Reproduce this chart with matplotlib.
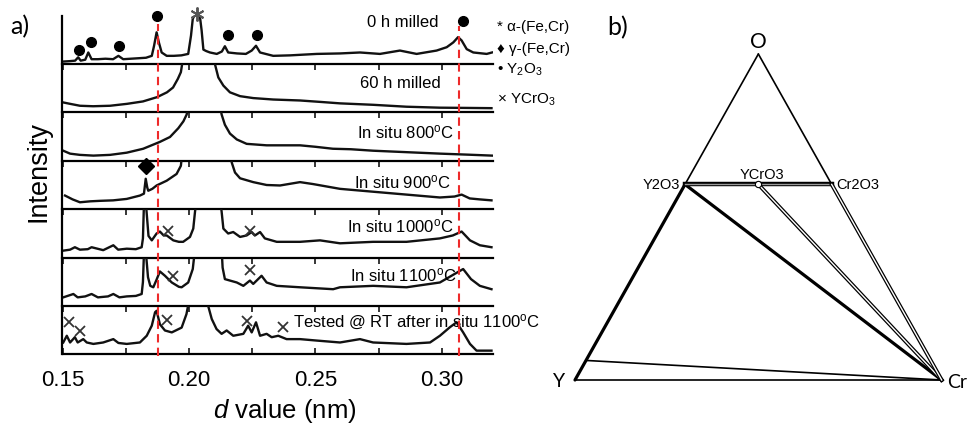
import matplotlib
matplotlib.use('Agg')
import matplotlib.pyplot as plt
import numpy as np

plt.rcParams['font.family'] = ['Liberation Sans', 'DejaVu Sans']
plt.rcParams['mathtext.fontset'] = 'custom'
plt.rcParams['mathtext.rm'] = 'Liberation Sans'
plt.rcParams['mathtext.it'] = 'Liberation Sans:italic'
plt.rcParams['mathtext.bf'] = 'Liberation Sans:bold'

# ---------------- panel a data: (d value in nm, relative intensity in panel) ----------------
trace_0h = [(0.1500, 0.05), (0.1530, 0.06), (0.1550, 0.07), (0.1562, 0.14), (0.1572, 0.07), (0.1590, 0.09),
            (0.1602, 0.24), (0.1615, 0.10), (0.1640, 0.10), (0.1670, 0.11), (0.1700, 0.10), (0.1721, 0.17),
            (0.1740, 0.10), (0.1770, 0.11), (0.1800, 0.12), (0.1830, 0.13), (0.1853, 0.17), (0.1862, 0.38),
            (0.1872, 0.66), (0.1881, 0.45), (0.1892, 0.24), (0.1912, 0.17), (0.1940, 0.17), (0.1970, 0.18),
            (0.1997, 0.21), (0.2008, 0.59), (0.2015, 0.94), (0.2022, 1.02), (0.2035, 1.03), (0.2043, 1.00),
            (0.2050, 0.70), (0.2057, 0.30), (0.2068, 0.27), (0.2083, 0.24), (0.2110, 0.21), (0.2130, 0.26),
            (0.2142, 0.37), (0.2155, 0.24), (0.2190, 0.22), (0.2225, 0.21), (0.2248, 0.28), (0.2265, 0.38),
            (0.2281, 0.24), (0.2333, 0.17), (0.2400, 0.18), (0.2505, 0.21), (0.2597, 0.22), (0.2676, 0.24),
            (0.2755, 0.21), (0.2834, 0.28), (0.2900, 0.21), (0.2979, 0.28), (0.3019, 0.35), (0.3045, 0.45),
            (0.3064, 0.56), (0.3078, 0.49), (0.3098, 0.31), (0.3124, 0.24), (0.3177, 0.21), (0.3198, 0.24)]

trace_60h = [(0.1502, 0.20), (0.1530, 0.17), (0.1569, 0.13), (0.1621, 0.12), (0.1688, 0.13), (0.1755, 0.17),
             (0.1818, 0.22), (0.1874, 0.31), (0.1913, 0.41), (0.1937, 0.51), (0.1956, 0.69), (0.1968, 0.83),
             (0.1976, 1.10), (0.2100, 1.10), (0.2104, 0.97), (0.2116, 0.72), (0.2136, 0.55), (0.2162, 0.41),
             (0.2202, 0.33), (0.2254, 0.29), (0.2333, 0.26), (0.2439, 0.24), (0.2520, 0.21), (0.2597, 0.18),
             (0.2728, 0.15), (0.2860, 0.11), (0.2992, 0.09), (0.3100, 0.085), (0.3196, 0.08)]

trace_800 = [(0.1503, 0.21), (0.1530, 0.15), (0.1569, 0.125), (0.1622, 0.11), (0.1688, 0.125), (0.1754, 0.17),
             (0.1819, 0.25), (0.1885, 0.39), (0.1925, 0.49), (0.1958, 0.67), (0.1978, 0.81), (0.1991, 0.95),
             (0.1996, 1.10), (0.2124, 1.10), (0.2129, 0.95), (0.2142, 0.74), (0.2162, 0.56), (0.2189, 0.44),
             (0.2228, 0.35), (0.2307, 0.32), (0.2439, 0.32), (0.2500, 0.29), (0.2569, 0.25), (0.2640, 0.24),
             (0.2728, 0.21), (0.2861, 0.18), (0.2994, 0.15), (0.3100, 0.13), (0.3198, 0.11)]

trace_900 = [(0.1510, 0.28), (0.1540, 0.20), (0.1569, 0.14), (0.1610, 0.16), (0.1648, 0.17), (0.1700, 0.18),
             (0.1754, 0.21), (0.1806, 0.28), (0.1822, 0.32), (0.1829, 0.63), (0.1835, 0.45), (0.1839, 0.38),
             (0.1855, 0.42), (0.1872, 0.49), (0.1912, 0.59), (0.1951, 0.73), (0.1968, 0.90), (0.1972, 1.10),
             (0.2165, 1.10), (0.2169, 0.97), (0.2182, 0.76), (0.2202, 0.64), (0.2254, 0.56), (0.2307, 0.50),
             (0.2360, 0.49), (0.2439, 0.56), (0.2490, 0.52), (0.2597, 0.42), (0.2728, 0.36), (0.2860, 0.30),
             (0.2992, 0.24), (0.3050, 0.26), (0.3078, 0.30), (0.3110, 0.22), (0.3150, 0.20), (0.3196, 0.18)]

trace_1000 = [(0.1503, 0.15), (0.1530, 0.17), (0.1549, 0.22), (0.1569, 0.17), (0.1600, 0.18), (0.1615, 0.22),
              (0.1661, 0.16), (0.1701, 0.26), (0.1720, 0.17), (0.1754, 0.19), (0.1790, 0.18), (0.1813, 0.22),
              (0.1818, 0.40), (0.1822, 1.10), (0.1830, 1.10), (0.1840, 0.45), (0.1853, 0.36), (0.1872, 0.50),
              (0.1885, 0.54), (0.1900, 0.46), (0.1912, 0.46), (0.1938, 0.36), (0.1960, 0.33), (0.1977, 0.33),
              (0.2004, 0.43), (0.2017, 0.60), (0.2024, 0.95), (0.2028, 1.10), (0.2125, 1.10), (0.2129, 0.95),
              (0.2136, 0.60), (0.2155, 0.50), (0.2175, 0.53), (0.2202, 0.43), (0.2228, 0.46), (0.2248, 0.53),
              (0.2261, 0.46), (0.2281, 0.53), (0.2300, 0.40), (0.2347, 0.33), (0.2439, 0.33), (0.2518, 0.36),
              (0.2597, 0.30), (0.2728, 0.33), (0.2860, 0.33), (0.2992, 0.40), (0.3043, 0.46), (0.3078, 0.54),
              (0.3111, 0.36), (0.3150, 0.26), (0.3196, 0.22)]

trace_1100 = [(0.1503, 0.18), (0.1543, 0.25), (0.1560, 0.18), (0.1590, 0.20), (0.1615, 0.25), (0.1640, 0.18),
              (0.1680, 0.20), (0.1701, 0.25), (0.1725, 0.18), (0.1754, 0.20), (0.1790, 0.21), (0.1813, 0.25),
              (0.1818, 0.50), (0.1822, 1.10), (0.1830, 1.10), (0.1838, 0.60), (0.1847, 0.42), (0.1859, 0.39),
              (0.1872, 0.55), (0.1885, 0.72), (0.1905, 0.63), (0.1932, 0.49), (0.1960, 0.40), (0.1971, 0.39),
              (0.1997, 0.49), (0.2015, 0.77), (0.2022, 1.10), (0.2130, 1.10), (0.2133, 0.80), (0.2142, 0.56),
              (0.2162, 0.53), (0.2189, 0.49), (0.2215, 0.42), (0.2241, 0.53), (0.2254, 0.46), (0.2287, 0.63),
              (0.2307, 0.49), (0.2347, 0.42), (0.2439, 0.39), (0.2570, 0.35), (0.2597, 0.39), (0.2728, 0.42),
              (0.2860, 0.39), (0.2992, 0.49), (0.3051, 0.67), (0.3084, 0.77), (0.3115, 0.56), (0.3150, 0.42),
              (0.3196, 0.35)]

trace_rt = [(0.1503, 0.24), (0.1517, 0.38), (0.1530, 0.24), (0.1549, 0.35), (0.1560, 0.24), (0.1582, 0.31),
            (0.1596, 0.24), (0.1622, 0.21), (0.1661, 0.24), (0.1701, 0.31), (0.1721, 0.23), (0.1754, 0.21),
            (0.1806, 0.24), (0.1833, 0.38), (0.1853, 0.59), (0.1866, 0.87), (0.1872, 0.90), (0.1885, 0.62),
            (0.1905, 0.49), (0.1932, 0.45), (0.1971, 0.55), (0.1990, 0.83), (0.2000, 1.10), (0.2070, 1.10),
            (0.2076, 1.00), (0.2090, 0.73), (0.2109, 0.52), (0.2129, 0.42), (0.2149, 0.49), (0.2175, 0.38),
            (0.2215, 0.42), (0.2234, 0.59), (0.2248, 0.45), (0.2265, 0.66), (0.2281, 0.38), (0.2307, 0.42),
            (0.2327, 0.35), (0.2353, 0.38), (0.2386, 0.31), (0.2439, 0.31), (0.2505, 0.28), (0.2597, 0.24),
            (0.2676, 0.31), (0.2728, 0.24), (0.2860, 0.21), (0.2953, 0.24), (0.2992, 0.38), (0.3032, 0.56),
            (0.3058, 0.66), (0.3084, 0.45), (0.3111, 0.21), (0.3137, 0.07), (0.3196, 0.07)]

traces = [trace_0h, trace_60h, trace_800, trace_900, trace_1000, trace_1100, trace_rt]
trace_labels = ['0 h milled', '60 h milled', r'In situ 800$^{\mathrm{o}}$C', r'In situ 900$^{\mathrm{o}}$C',
                r'In situ 1000$^{\mathrm{o}}$C', r'In situ 1100$^{\mathrm{o}}$C',
                r'Tested @ RT after in situ 1100$^{\mathrm{o}}$C']

# phase markers: (panel, d, height)
y2o3_marks = [(0, 0.1565, 0.29), (0, 0.1611, 0.45), (0, 0.1723, 0.38), (0, 0.1875, 0.99),
              (0, 0.2155, 0.60), (0, 0.2270, 0.61), (0, 0.3082, 0.90)]
alpha_marks = [(0, 0.2030, 1.04)]
gamma_marks = [(3, 0.1830, 0.90)]
ycro3_marks = [(4, 0.1918, 0.55), (4, 0.2241, 0.55), (5, 0.1936, 0.63), (5, 0.2241, 0.76),
               (6, 0.1527, 0.66), (6, 0.1569, 0.47), (6, 0.1914, 0.71), (6, 0.2228, 0.69), (6, 0.2373, 0.56)]
ref_lines_d = [0.1877, 0.3068]

legend_texts = ['* \u03b1-(Fe,Cr)', '\u2666 \u03b3-(Fe,Cr)', '\u2022 Y$_2$O$_3$', '\u00d7 YCrO$_3$']

# ---------------- panel b data: ternary compositions (x_O, x_Cr) ----------------
phase_comp = {'O': (1.0, 0.0), 'Y': (0.0, 0.0), 'Cr': (0.0, 1.0), 'Y2O3': (0.6, 0.0),
              'Cr2O3': (0.6, 0.4), 'YCrO3': (0.6, 0.2), 'Y(O)': (0.06, 0.0)}
tie_lines = [('O', 'Y2O3', 'thin'), ('O', 'Cr2O3', 'thin'), ('Y2O3', 'Y', 'thick'),
             ('Y', 'Cr', 'thin'), ('Y(O)', 'Cr', 'thin'), ('Y2O3', 'Cr', 'thick'),
             ('Y2O3', 'Cr2O3', 'grey'), ('YCrO3', 'Cr', 'double'), ('Cr2O3', 'Cr', 'double')]

W, H = 968, 427


def box(x0, y0, x1, y1):
    return [x0 / W, 1 - y1 / H, (x1 - x0) / W, (y1 - y0) / H]


fig = plt.figure(figsize=(W / 100, H / 100), dpi=100)

# ---------------- panel a ----------------
edges = [17, 65, 113, 162, 210, 259, 307, 355]
left, right = 62.5, 492.5
label_pos = [(0.2844, 0.875), (0.2834, 0.625), (0.2858, 0.60), (0.2846, 0.58),
             (0.2834, 0.67), (0.2846, 0.67), (0.2901, 0.67)]
axes = []
for i, tr in enumerate(traces):
    ax = fig.add_axes(box(left, edges[i], right, edges[i + 1]))
    ax.patch.set_alpha(0)
    d, inten = np.array(tr).T
    ax.plot(d, inten, color='#111111', lw=1.7, solid_joinstyle='round')
    ax.set_xlim(0.15, 0.32)
    ax.set_ylim(0, 1)
    for s in ['top', 'right']:
        ax.spines[s].set_visible(False)
    ax.spines['left'].set_linewidth(1.6)
    ax.spines['bottom'].set_linewidth(1.6)
    ax.set_yticks([])
    ax.set_xticks([0.15, 0.20, 0.25, 0.30])
    ax.set_xticks([0.175, 0.225, 0.275], minor=True)
    last = i == len(traces) - 1
    ax.tick_params(axis='x', which='both', direction='in', length=4, width=1.1,
                   top=(i > 0), bottom=last, labelbottom=last, labelsize=16, pad=11)
    ax.text(*label_pos[i], trace_labels[i], ha='center', va='center', fontsize=12, clip_on=False)
    axes.append(ax)
axes[-1].set_xticklabels(['0.15', '0.20', '0.25', '0.30'])

for p, dv, hv in y2o3_marks:
    axes[p].plot(dv, hv, 'o', color='black', ms=7, clip_on=False, zorder=5)
for p, dv, hv in alpha_marks:
    axes[p].plot(dv, hv, marker=(6, 2, 0), color='#555555', ms=10, mew=1.4, clip_on=False, zorder=5)
for p, dv, hv in gamma_marks:
    axes[p].plot(dv, hv, 'D', color='black', ms=8, clip_on=False, zorder=5)
for p, dv, hv in ycro3_marks:
    axes[p].plot(dv, hv, 'x', color='#333333', ms=7, mew=1.3, clip_on=False, zorder=5)

over = fig.add_axes(box(left, edges[0], right, edges[-1]))
over.set_xlim(0.15, 0.32)
over.set_ylim(0, 1)
over.axis('off')
for dv, top in zip(ref_lines_d, [0.976, 0.97]):
    over.plot([dv, dv], [-0.005, top], color='#ee2a2a', lw=1.5, dashes=(4, 2.5), clip_on=False)

fig.text(39 / W, 1 - 172 / H, 'Intensity', rotation=90, ha='center', va='center', fontsize=19.5)
fig.text(285 / W, 1 - 411 / H, '$d$ value (nm)', ha='center', va='center', fontsize=18.5)
fig.text(20 / W, 1 - 27 / H, 'a)', ha='center', va='center', fontsize=18, family='Lato')
fig.text(618 / W, 1 - 28 / H, 'b)', ha='center', va='center', fontsize=18, family='Lato')

for txt, ypx in zip(legend_texts, [27, 49, 70, 100]):
    fig.text(497 / W, 1 - ypx / H, txt, ha='left', va='center', fontsize=11)

# ---------------- panel b ----------------
axb = fig.add_axes(box(575, 55, 941.7, 381))
axb.set_xlim(0, 1)
axb.set_ylim(0, np.sqrt(3) / 2)
axb.axis('off')


def tern(name):
    x_o, x_cr = phase_comp[name]
    return x_cr + x_o / 2, x_o * np.sqrt(3) / 2


for a, b, style in tie_lines:
    (xa, ya), (xb, yb) = tern(a), tern(b)
    if style == 'thin':
        axb.plot([xa, xb], [ya, yb], color='black', lw=1.2, clip_on=False, solid_capstyle='round')
    elif style == 'thick':
        axb.plot([xa, xb], [ya, yb], color='black', lw=2.3, clip_on=False, solid_capstyle='round')
    elif style == 'grey':
        axb.plot([xa, xb], [ya, yb], color='black', lw=3.2, clip_on=False)
        axb.plot([xa, xb], [ya, yb], color='#9a9a9a', lw=1.0, clip_on=False)
    else:
        axb.plot([xa, xb], [ya, yb], color='black', lw=2.8, clip_on=False)
        axb.plot([xa, xb], [ya, yb], color='white', lw=1.0, clip_on=False)

xm, ym = tern('YCrO3')
axb.plot(xm, ym, 'o', ms=4.5, mfc='white', mec='black', mew=0.8, clip_on=False, zorder=5)

label_offsets = {'O': (0, 13, 'center', 'Lato', 15), 'Y': (-10, -1, 'right', 'Lato', 14),
                 'Cr': (5, -2, 'left', 'Lato', 14), 'Y2O3': (-5, 0, 'right', 'Liberation Sans', 10.5),
                 'Cr2O3': (5, 0, 'left', 'Liberation Sans', 10.5),
                 'YCrO3': (4, 10, 'center', 'Liberation Sans', 10.5)}
for name, (dx, dy, ha, fam, fs) in label_offsets.items():
    axb.annotate(name, tern(name), xytext=(dx, dy), textcoords='offset pixels',
                 ha=ha, va='center', fontsize=fs, family=fam, annotation_clip=False)

fig.savefig('out.png', dpi=100)
